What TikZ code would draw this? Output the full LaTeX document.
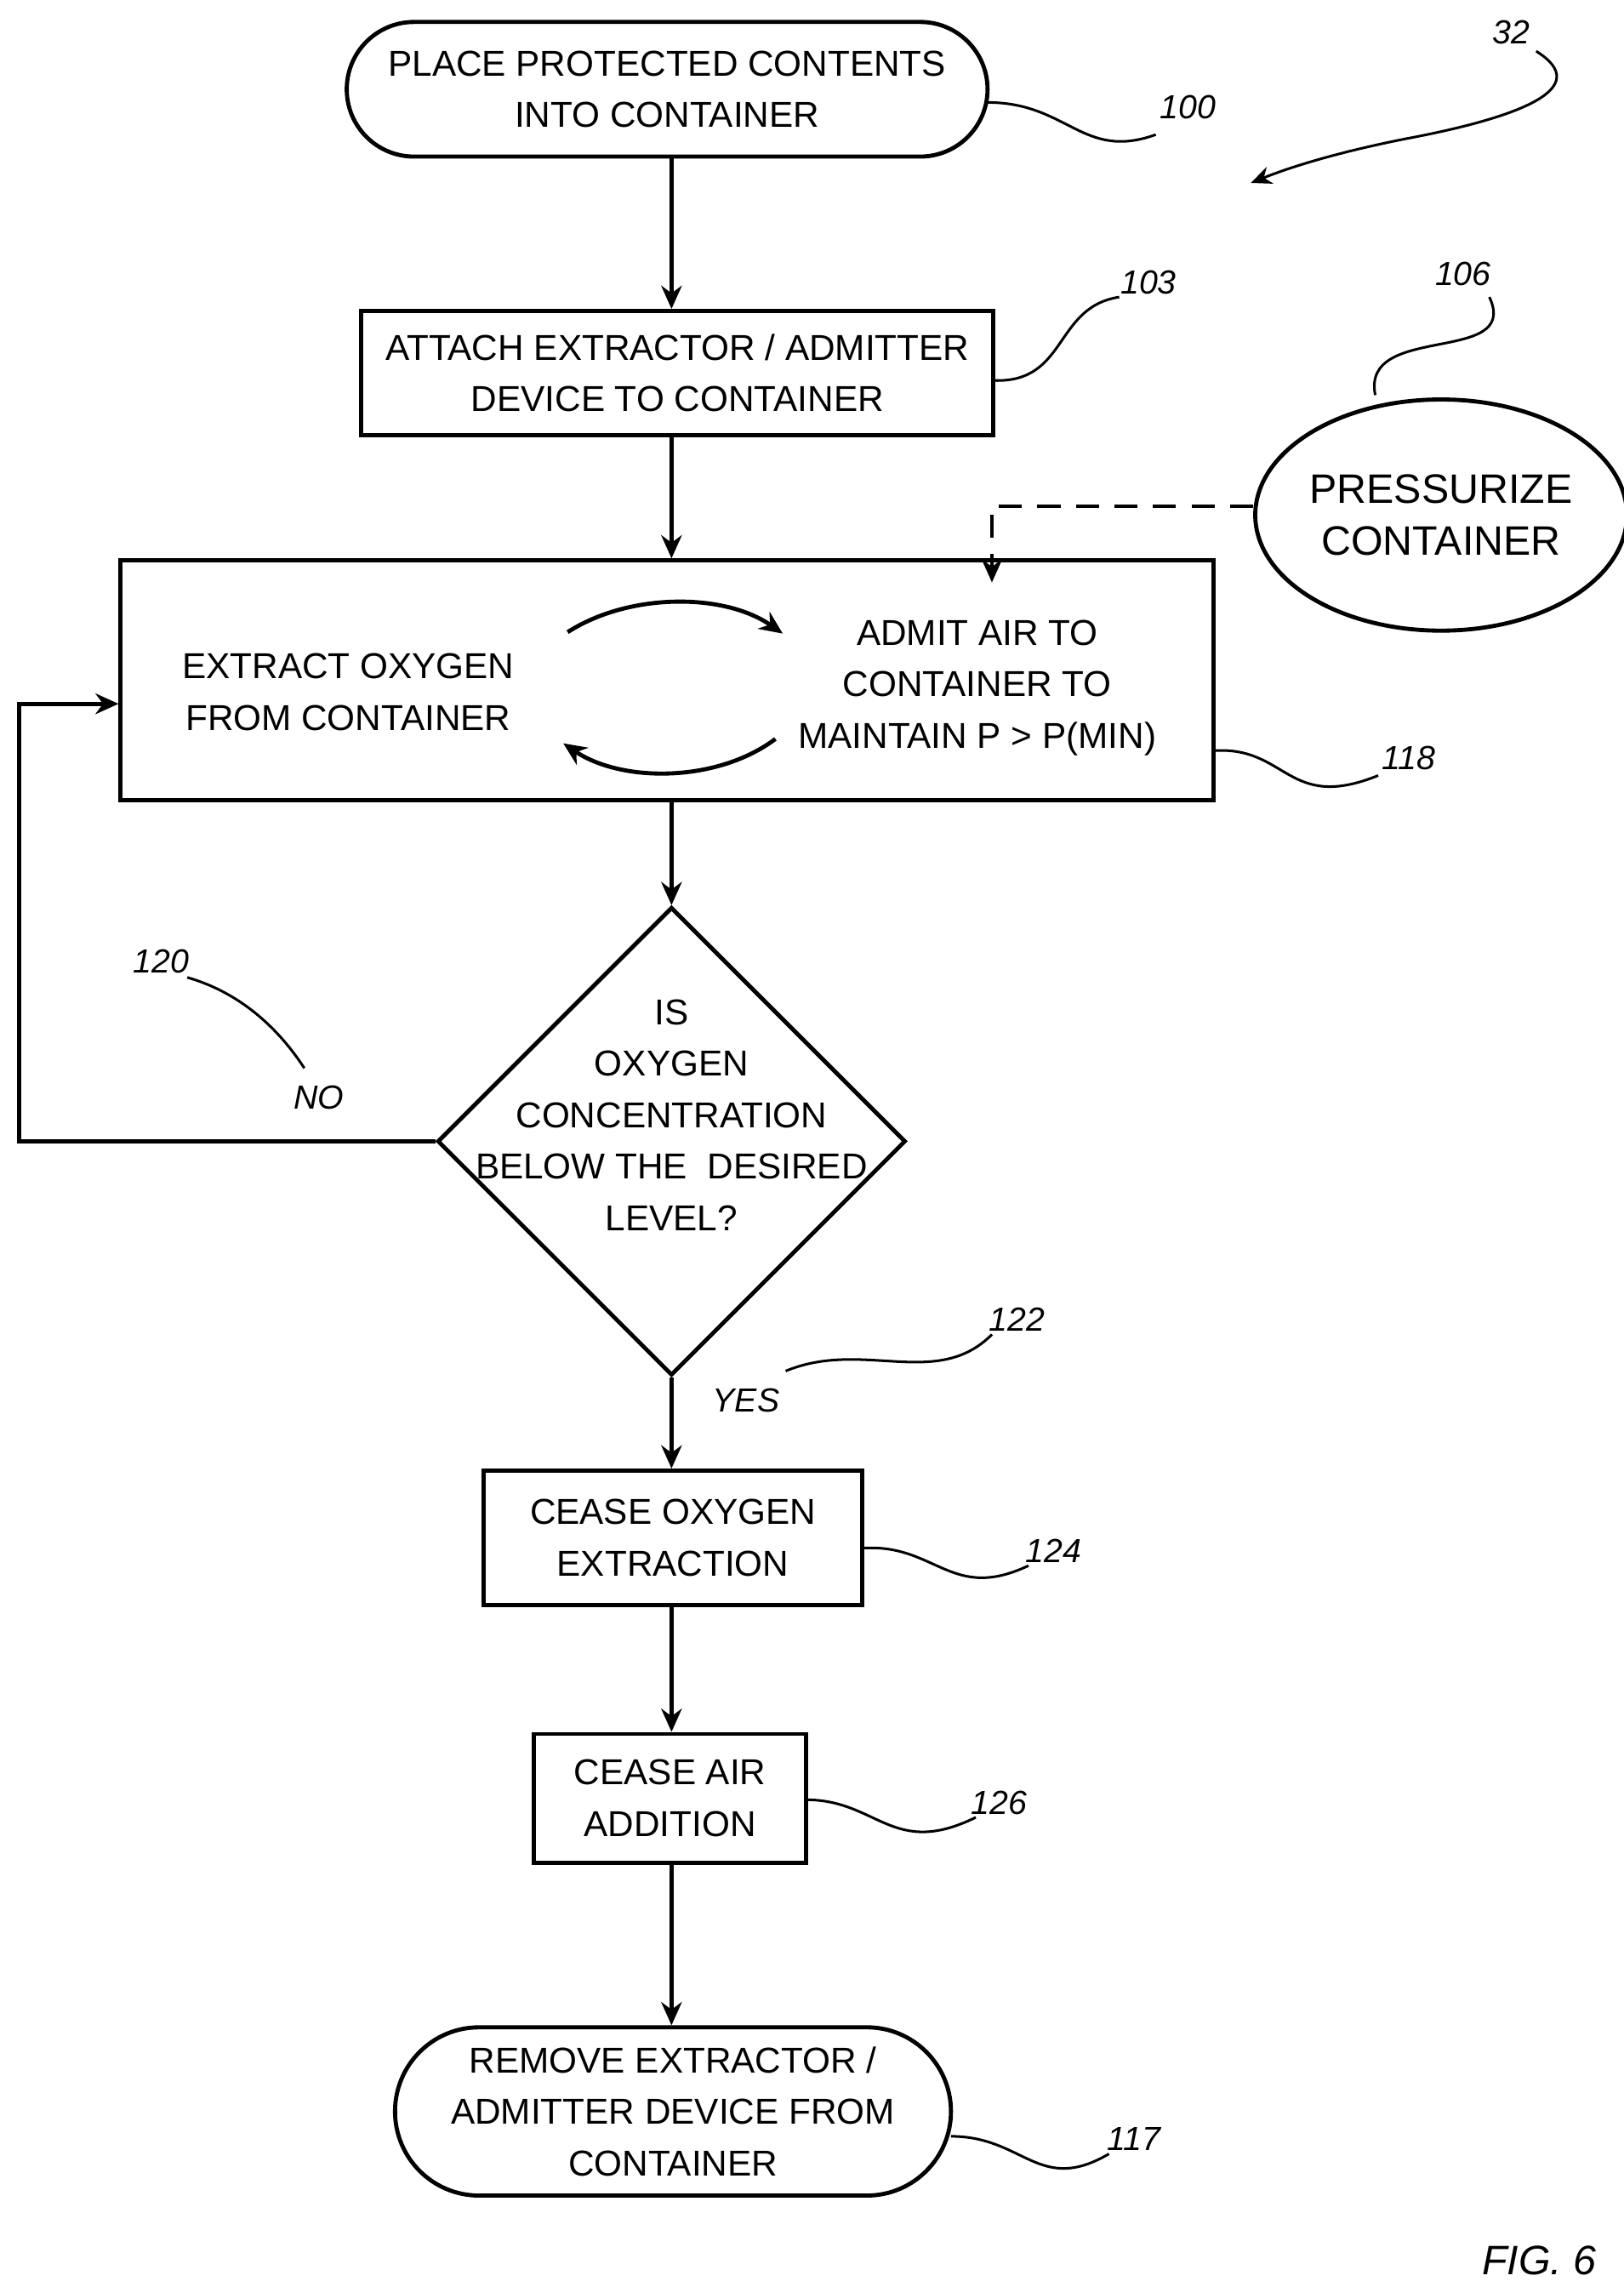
\documentclass[tikz,border=0pt]{standalone}
\usepackage{fontspec}
\setmainfont{Liberation Sans}
\usetikzlibrary{shapes.geometric,shapes.misc,arrows.meta}
\tikzset{
  box/.style={draw,line width=1.6pt,align=center,inner sep=0pt},
  term/.style={box,rounded rectangle},
  flow/.style={line width=1.6pt,-{Stealth[length=9pt,width=8pt]}},
  lead/.style={line width=1pt},
  num/.style={font=\fontsize{13}{15}\selectfont\itshape}
}
\begin{document}
\begin{tikzpicture}[x=0.02cm,y=-0.02cm,font=\fontsize{14}{20}\selectfont]
  \useasboundingbox (0,0) rectangle (1110,1563);

  % Main flow
  \node[term,minimum width=438*0.02cm,minimum height=92*0.02cm] (place) at (456,61) {PLACE PROTECTED CONTENTS\\INTO CONTAINER};
  \node[box,minimum width=432*0.02cm,minimum height=85*0.02cm] (attach) at (463,255) {ATTACH EXTRACTOR / ADMITTER\\DEVICE TO CONTAINER};
  \node[box,minimum width=747*0.02cm,minimum height=164*0.02cm] (loop) at (456,465) {};
  \node[align=center] (extract) at (238,473) {EXTRACT OXYGEN\\FROM CONTAINER};
  \node[align=center] (admit) at (668,470) {ADMIT AIR TO\\CONTAINER TO\\MAINTAIN P > P(MIN)};
  \node[box,diamond,minimum width=320*0.02cm,minimum height=320*0.02cm] (check) at (459,780) {};
  \node[align=center] (checktxt) at (459,762) {IS\\OXYGEN\\CONCENTRATION\\BELOW THE\ \ DESIRED\\LEVEL?};
  \node[box,minimum width=259*0.02cm,minimum height=92*0.02cm] (cease) at (460,1051) {CEASE OXYGEN\\EXTRACTION};
  \node[box,minimum width=186*0.02cm,minimum height=88*0.02cm] (air) at (458,1229) {CEASE AIR\\ADDITION};
  \node[term,minimum width=380*0.02cm,minimum height=115*0.02cm] (remove) at (460,1443) {REMOVE EXTRACTOR /\\ADMITTER DEVICE FROM\\CONTAINER};
  \node[box,ellipse,minimum width=226*0.02cm,minimum height=158*0.02cm,font=\fontsize{16}{20}\selectfont] (press) at (985,352) {PRESSURIZE\\CONTAINER};

  \draw[flow] (place.south -| check) -- (attach.north -| check);
  \draw[flow] (attach.south -| check) -- (loop.north -| check);
  \draw[flow] (loop.south -| check) -- (check.north);
  \draw[flow] (check.south) -- (cease.north -| check);
  \draw[flow] (cease.south -| check) -- (air.north -| check);
  \draw[flow] (air.south -| check) -- (remove.north -| check);
  \draw[flow] (check.west) -- (13,780) -- (13,481) -- (loop.west |- 0,481);
  \draw[line width=1.6pt,dash pattern=on 9pt off 6pt,-{Stealth[length=9pt,width=8pt]}] (press.west |- 0,346) -- (678,346) -- (678,398);

  % Cycle arrows
  \draw[flow] (388,432) .. controls (430,405) and (495,405) .. (535,433);
  \draw[flow] (530,505) .. controls (490,535) and (425,535) .. (385,508);

  % Reference numerals
  \node[num] (n100) at (812,73) {100};
  \draw[lead] (675,70) .. controls (730,70) and (740,110) .. (790,92);
  \node[num] (n103) at (785,193) {103};
  \draw[lead] (679,260) .. controls (730,262) and (720,210) .. (765,203);
  \node[num] (n106) at (1000,187) {106};
  \draw[lead] (940,270) .. controls (930,220) and (1040,250) .. (1018,203);
  \node[num] (n118) at (963,518) {118};
  \draw[lead] (830,513) .. controls (880,510) and (880,555) .. (942,530);
  \node[num] (n120) at (110,657) {120};
  \draw[lead] (128,668) .. controls (170,680) and (195,710) .. (208,730);
  \node[num] (no) at (218,750) {NO};
  \node[num] (yes) at (510,957) {YES};
  \node[num] (n122) at (695,902) {122};
  \draw[lead] (537,937) .. controls (590,915) and (640,950) .. (678,912);
  \node[num] (n124) at (720,1060) {124};
  \draw[lead] (590,1058) .. controls (640,1055) and (650,1095) .. (703,1070);
  \node[num] (n126) at (683,1232) {126};
  \draw[lead] (551,1230) .. controls (600,1230) and (610,1270) .. (667,1242);
  \node[num] (n117) at (775,1462) {117};
  \draw[lead] (650,1460) .. controls (700,1460) and (710,1500) .. (758,1472);
  \node[num] (n32) at (1033,22) {32};
  \draw[line width=1pt,-{Stealth[length=8pt,width=7pt]}] (1050,35) .. controls (1090,60) and (1040,80) .. (960,95) .. controls (910,105) and (880,115) .. (855,125);
  \node[num,font=\fontsize{16}{18}\selectfont\itshape] (fig) at (1052,1545) {FIG. 6};
\end{tikzpicture}
\end{document}
